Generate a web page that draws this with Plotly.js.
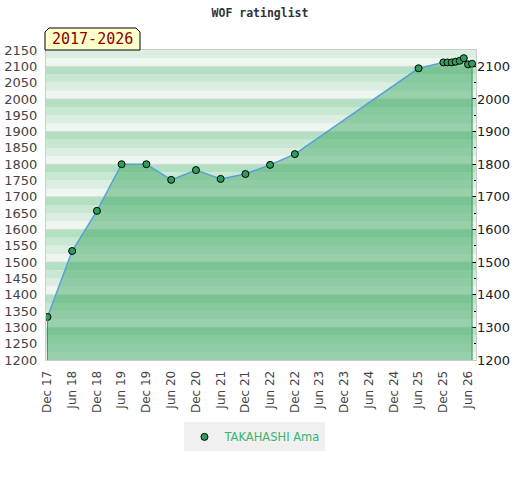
<!DOCTYPE html>
<html>
<head>
<meta charset="utf-8">
<script src="https://cdn.plot.ly/plotly-3.0.1.min.js"></script>
<style>html,body{margin:0;padding:0;background:#fff;}#chart{width:520px;height:480px;}</style>
</head>
<body>
<div id="chart"></div>
<script>
// ---- data ----
const playerName = 'TAKAHASHI Ama';
const chartTitle = 'WOF ratinglist';
const periodLabel = '2017-2026';
const dates = ['2017-12-01','2018-06-01','2018-12-01','2019-06-01','2019-12-01','2020-06-01',
  '2020-12-01','2021-06-01','2021-12-01','2022-06-01','2022-12-01','2025-06-01',
  '2025-12-01','2026-01-01','2026-02-01','2026-03-01','2026-04-01','2026-05-01',
  '2026-06-01','2026-07-01'];
const ratings = [1332,1534,1657,1800,1800,1752,1782,1755,1770,1798,1831,2094,
  2112,2112,2112,2114,2117,2125,2106,2108];
const tickDates = ['2017-12-01','2018-06-01','2018-12-01','2019-06-01','2019-12-01','2020-06-01',
  '2020-12-01','2021-06-01','2021-12-01','2022-06-01','2022-12-01','2023-06-01','2023-12-01',
  '2024-06-01','2024-12-01','2025-06-01','2025-12-01','2026-06-01'];
const tickLabels = ['Dec 17','Jun 18','Dec 18','Jun 19','Dec 19','Jun 20','Dec 20','Jun 21',
  'Dec 21','Jun 22','Dec 22','Jun 23','Dec 23','Jun 24','Dec 24','Jun 25','Dec 25','Jun 26'];
const yMin = 1200, yMax = 2150;

// ---- background bands ----
const bandColors = ['#eef6f0','#dcede2','#c8e8d3','#b3dfc3'];
const shapes = [];
for (let v = yMin, i = 0; v < yMax; v += 25, i++) {
  shapes.push({type:'rect', xref:'paper', yref:'y', x0:0, x1:1, y0:v, y1:v+25,
    fillcolor:bandColors[i % 4], line:{width:0}, layer:'below'});
}
for (let v = yMin + 100; v < yMax; v += 100) {
  shapes.push({type:'line', xref:'paper', yref:'y', x0:0, x1:1, y0:v, y1:v,
    line:{color:'#d3dbd5', width:1}, layer:'below'});
}
// fill edge verticals
const last = dates.length - 1;
shapes.push({type:'line', xref:'x', yref:'y', x0:dates[0], x1:dates[0], y0:yMin, y1:ratings[0],
  line:{color:'#3a9a5c', width:1}});
shapes.push({type:'line', xref:'x', yref:'y', x0:dates[last], x1:dates[last], y0:yMin, y1:ratings[last],
  line:{color:'#3a9a5c', width:1}});
// period label box (clipped top corners)
const bx0 = -0.0023, bx1 = 0.2186, by0 = 1.0, by1 = 1.071, cx = 0.0093, cy = 0.0129;
shapes.push({type:'path', xref:'paper', yref:'paper',
  path:`M ${bx0},${by0} L ${bx0},${by1-cy} L ${bx0+cx},${by1} L ${bx1-cx},${by1} L ${bx1},${by1-cy} L ${bx1},${by0} Z`,
  fillcolor:'#ffffcc', line:{color:'#000', width:1}});

const traces = [
  {x:dates, y:ratings, type:'scatter', mode:'none', fill:'tozeroy',
   fillcolor:'rgba(65,169,101,0.5)', showlegend:false, hoverinfo:'skip'},
  {x:dates, y:ratings, type:'scatter', mode:'lines', line:{color:'#5aa0d8', width:1.5},
   showlegend:false, hoverinfo:'skip'},
  {x:dates, y:ratings, type:'scatter', mode:'markers', name:playerName,
   marker:{size:7, color:'#2e9e5b', line:{color:'#000', width:1}}},
  {x:[dates[0]], y:[ratings[0]], type:'scatter', mode:'markers', yaxis:'y2',
   marker:{size:1, opacity:0}, showlegend:false, hoverinfo:'skip'}
];

const axisFont = {family:'DejaVu Sans', size:12, color:'#444'};
const layout = {
  width:520, height:480,
  margin:{l:46, r:44, t:50, b:120},
  paper_bgcolor:'#fff', plot_bgcolor:'#fff',
  title:{text:chartTitle, x:0.5, xref:'container', y:0.973, yref:'container', yanchor:'middle',
    font:{family:'DejaVu Sans Mono', size:11.5, color:'#333', weight:'bold'}},
  xaxis:{type:'date', range:['2017-11-20','2026-07-30'], tickvals:tickDates, ticktext:tickLabels,
    tickangle:-90, tickfont:axisFont, ticks:'outside', ticklen:5, tickcolor:'rgba(0,0,0,0)',
    showgrid:false, zeroline:false, showline:true, linecolor:'#ccc', linewidth:1, mirror:true},
  yaxis:{range:[yMin, yMax], dtick:50, tick0:1200, tickfont:{family:'DejaVu Sans', size:13, color:'#444'},
    ticks:'outside', ticklen:5, tickcolor:'rgba(0,0,0,0)', showgrid:false, zeroline:false,
    showline:true, linecolor:'#ccc', linewidth:1, mirror:true},
  yaxis2:{overlaying:'y', side:'right', range:[yMin, yMax], tickvals:[1200,1300,1400,1500,1600,1700,1800,1900,2000,2100],
    tickfont:{family:'DejaVu Sans', size:13, color:'#222'}, ticks:'inside', ticklen:4, tickcolor:'#000',
    minor:{tickvals:[1250,1350,1450,1550,1650,1750,1850,1950,2050], ticks:'inside', ticklen:2, tickcolor:'#000'},
    showgrid:false, zeroline:false, showline:false},
  shapes:shapes,
  annotations:[{xref:'paper', yref:'paper', x:(bx0+bx1)/2, y:(by0+by1)/2, xanchor:'center', yanchor:'middle',
    text:periodLabel, showarrow:false, font:{family:'DejaVu Sans Mono', size:15, color:'#8b0000'}}],
  legend:{orientation:'h', x:0.486, xanchor:'center', y:-0.248, yanchor:'middle', bgcolor:'#f0f0f0',
    itemwidth:30, font:{family:'DejaVu Sans', size:11.5, color:'#3cb371'}},
  showlegend:true
};
Plotly.newPlot('chart', traces, layout, {staticPlot:true, displayModeBar:false});
</script>
</body>
</html>
